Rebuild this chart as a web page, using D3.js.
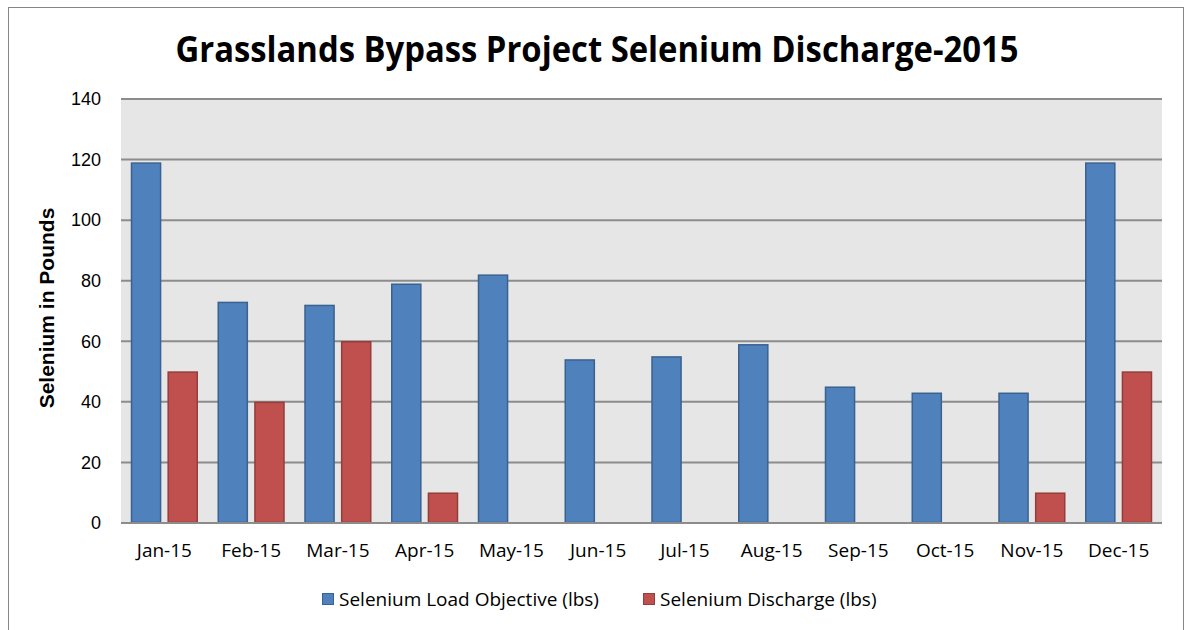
<!DOCTYPE html>
<html><head><meta charset="utf-8">
<script src="https://cdn.jsdelivr.net/npm/d3@7"></script>
<style>
html,body{margin:0;padding:0;background:#fff;}
svg{display:block;}
</style></head>
<body><svg id="chart" width="1188" height="630"></svg>
<script>
const categories = ["Jan-15","Feb-15","Mar-15","Apr-15","May-15","Jun-15","Jul-15","Aug-15","Sep-15","Oct-15","Nov-15","Dec-15"];
const loadObjective = [119,73,72,79,82,54,55,59,45,43,43,119];
const discharge = [50,40,60,10,null,null,null,null,null,null,10,50];
const yTicks = [0,20,40,60,80,100,120,140];
const seriesNames = ["Selenium Load Objective (lbs)","Selenium Discharge (lbs)"];
const title = "Grasslands Bypass Project Selenium Discharge-2015";
const yTitle = "Selenium in Pounds";

const svg = d3.select("#chart");
const m = {left:121, right:1162, top:99, bottom:523};

// outer border
svg.append("rect").attr("x",8.5).attr("y",7.5).attr("width",1175).attr("height",640)
  .attr("fill","#fff").attr("stroke","#868686").attr("stroke-width",1);

const x = d3.scaleBand().domain(categories).range([m.left,m.right]).paddingInner(0).paddingOuter(0);
const y = d3.scaleLinear().domain([0,140]).range([m.bottom,m.top]);
const x1 = d3.scaleBand().domain([0,1]).range([10, x.bandwidth()-10]).paddingInner(0.18);

svg.append("rect").attr("x",m.left).attr("y",m.top).attr("width",m.right-m.left).attr("height",m.bottom-m.top).attr("fill","#E6E6E6");

// gridlines
svg.append("g").selectAll("line").data(yTicks).join("line")
  .attr("x1",m.left).attr("x2",m.right).attr("y1",d=>y(d)).attr("y2",d=>y(d))
  .attr("stroke","#8C8C8C").attr("stroke-width",2);

// y axis labels
const yAxis = svg.append("g").attr("transform",`translate(${m.left},0)`)
  .call(d3.axisLeft(y).tickValues(yTicks).tickSize(0).tickPadding(20));
yAxis.select(".domain").remove();
yAxis.selectAll("text").attr("font-family","'Liberation Sans',Arial,sans-serif").attr("font-size",18).attr("fill","#000");

const colors = ["#4F81BD","#C0504D"];
const strokes = ["#3A6290","#943D3A"];
const series = [loadObjective, discharge];
series.forEach((vals,si)=>{
  svg.append("g").selectAll("rect").data(vals.map((v,i)=>({v,c:categories[i]})).filter(d=>d.v!=null)).join("rect")
    .attr("x",d=>x(d.c)+x1(si)+0.5)
    .attr("width",x1.bandwidth()-1)
    .attr("y",d=>y(d.v)+0.5)
    .attr("height",d=>y(0)-y(d.v)-1)
    .attr("fill",colors[si]).attr("stroke",strokes[si]).attr("stroke-width",1.5);
});

// baseline
svg.append("line").attr("x1",m.left).attr("x2",m.right).attr("y1",y(0)).attr("y2",y(0)).attr("stroke","#8C8C8C").attr("stroke-width",2);

// x axis labels
const xAxis = svg.append("g").attr("transform",`translate(0,${m.bottom})`)
  .call(d3.axisBottom(x).tickSize(0).tickPadding(21));
xAxis.select(".domain").remove();
xAxis.selectAll("text").attr("font-family","'Open Sans',sans-serif").attr("font-size",19).attr("fill","#000");

// title
svg.append("text").attr("x",597).attr("y",62).attr("text-anchor","middle")
  .attr("font-family","'Open Sans',sans-serif").attr("font-weight","bold").attr("font-size",36)
  .attr("textLength",843).attr("lengthAdjust","spacingAndGlyphs").text(title);

// y title
svg.append("text").attr("transform","translate(54,308) rotate(-90)").attr("text-anchor","middle")
  .attr("font-family","'Liberation Sans',Arial,sans-serif").attr("font-weight","bold").attr("font-size",21).text(yTitle);

// legend
const legX = [322, 643];
const lg = svg.append("g");
seriesNames.forEach((n,i)=>{
  lg.append("rect").attr("x",legX[i]+0.5).attr("y",593.5).attr("width",11).attr("height",11)
    .attr("fill",colors[i]).attr("stroke",strokes[i]).attr("stroke-width",1);
  lg.append("text").attr("x",legX[i]+17).attr("y",606).attr("font-family","'Open Sans',sans-serif")
    .attr("font-size",19).attr("fill","#000").text(n);
});
</script></body></html>
